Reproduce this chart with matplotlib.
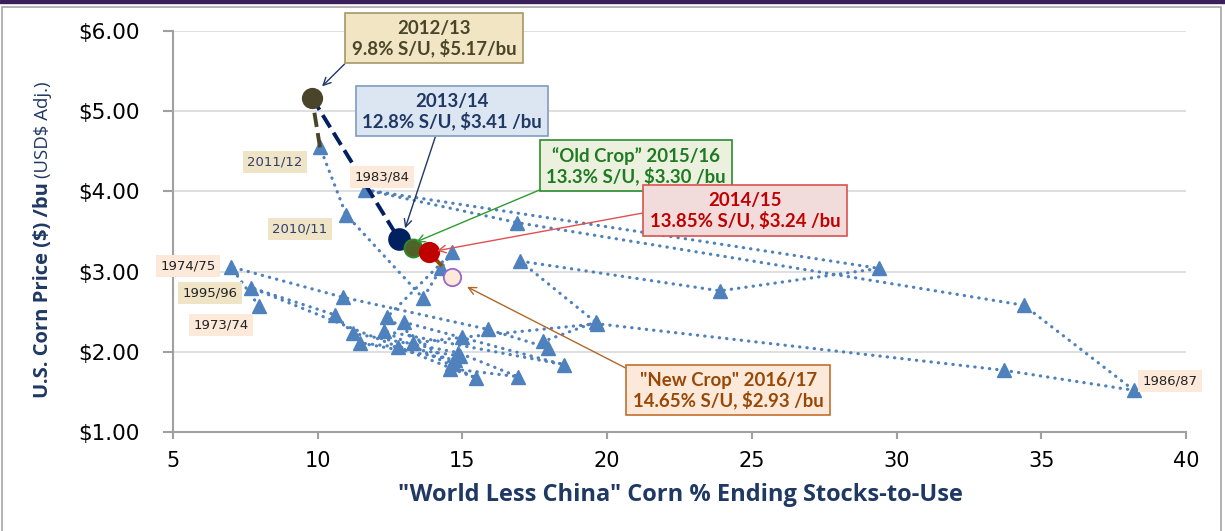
import numpy as np
import matplotlib
matplotlib.use("Agg")
import matplotlib.pyplot as plt
from matplotlib.patches import Rectangle

# chronological history 1973/74 .. 2011/12 (S/U %, real $/bu)
years = ["1973/74", "1974/75", "1975/76", "1976/77", "1977/78", "1978/79", "1979/80",
         "1980/81", "1981/82", "1982/83", "1983/84", "1984/85", "1985/86", "1986/87",
         "1987/88", "1988/89", "1989/90", "1990/91", "1991/92", "1992/93", "1993/94",
         "1994/95", "1995/96", "1996/97", "1997/98", "1998/99", "1999/00", "2000/01",
         "2001/02", "2002/03", "2003/04", "2004/05", "2005/06", "2006/07", "2007/08",
         "2008/09", "2009/10", "2010/11", "2011/12"]
stocks_use = [7.97, 7.0, 10.87, 15.88, 17.96, 17.8, 19.6,
              17.0, 23.9, 29.4, 11.63, 16.9, 34.4, 38.2,
              33.7, 19.65, 14.99, 13.3, 12.97, 18.5, 12.29,
              15.47, 7.7, 10.6, 11.22, 14.85, 16.92, 14.57,
              14.75, 11.46, 12.77, 14.9, 14.65, 12.39, 14.64,
              14.26, 13.64, 10.98, 10.08]
price = [2.57, 3.06, 2.68, 2.28, 2.05, 2.13, 2.37,
         3.13, 2.76, 3.04, 4.02, 3.61, 2.58, 1.52,
         1.77, 2.35, 2.18, 2.11, 2.37, 1.84, 2.26,
         1.67, 2.80, 2.46, 2.23, 1.99, 1.69, 1.79,
         1.90, 2.11, 2.06, 1.95, 1.85, 2.43, 3.24,
         3.04, 2.67, 3.71, 4.55]

# highlighted recent years
hl_years = ["2012/13", "2013/14", "2015/16", "2014/15", "2016/17"]
hl_su = [9.8, 12.8, 13.3, 13.85, 14.65]
hl_price = [5.17, 3.41, 3.30, 3.24, 2.93]

labelled = ["2011/12", "2010/11", "1983/84", "1974/75", "1995/96", "1973/74", "1986/87"]

navy = "#1F3864"
blue = "#4F81BD"

fig = plt.figure(figsize=(12.25, 5.31), dpi=100)
ax = fig.add_axes([173 / 1225, 99 / 531, 1013 / 1225, 401 / 531])


def fit_size(s, target, size=12, **kw):
    # font size at which string s spans about `target` pixels
    t = fig.text(0, 0, s, fontsize=size, **kw)
    fig.canvas.draw()
    w = t.get_window_extent().width
    t.remove()
    return size * target / w


# frame and top band
fig.patches.append(Rectangle((0, 1 - 3 / 531), 1, 3 / 531, transform=fig.transFigure,
                             color="#3B1F5A", zorder=0))
fig.patches.append(Rectangle((2 / 1225, -0.1), 1219 / 1225, 1.1 - 7 / 531,
                             transform=fig.transFigure, fill=False,
                             edgecolor="#A6A6A6", lw=1.2, zorder=0))

ax.plot(stocks_use, price, linestyle=(0, (0.1, 2.2)), dash_capstyle="round", lw=2.3,
        color=blue, marker="^", markersize=10, markerfacecolor=blue,
        markeredgecolor=blue, zorder=3)

# links into the highlighted years
ax.plot([stocks_use[-1], hl_su[0]], [price[-1], hl_price[0]], "--", color="#4A452A",
        lw=2.8, zorder=4)
ax.plot(hl_su[:2], hl_price[:2], "--", color="#002060", lw=2.8, zorder=4)
mid = 0.55
ax.plot([hl_su[3], hl_su[3] + mid * (hl_su[4] - hl_su[3])],
        [hl_price[3], hl_price[3] + mid * (hl_price[4] - hl_price[3])],
        color="#984806", lw=2.8, zorder=4, solid_capstyle="butt")

face = ["#4A452A", "#002060", "#4F6228", "#C00000", "#FDE9D9"]
edge = ["#4A452A", "#002060", "#2E8B2E", "#C00000", "#9966CC"]
sizes = [14, 15, 13, 14, 12.5]
for i in range(5):
    ax.plot(hl_su[i], hl_price[i], "o", markersize=sizes[i], markerfacecolor=face[i],
            markeredgecolor=edge[i], markeredgewidth=1.3, zorder=5 + i)

# callout boxes
boxes = [
    ("2012/13\n9.8% S/U, $5.17/bu", (14.02, 5.91), "#4A452A", "#F1E5C3", "#A39867", "#1F3864", (0, 0)),
    ("2013/14\n12.8% S/U, $3.41 /bu", (14.64, 5.0), "#1F3864", "#DCE6F2", "#7F9CC0", "#1F3864", (0.42, 0)),
    ("\u201cOld Crop\u201d 2015/16\n13.3% S/U, $3.30 /bu", (21.0, 4.32), "#1E7B22", "#EBF1DE", "#2E8B2E", "#2E9B2E", (0.03, 0)),
    ("2014/15\n13.85% S/U, $3.24 /bu", (24.76, 3.76), "#C00000", "#F2DCDB", "#D9534F", "#E05050", (0, 0.47)),
    ("\"New Crop\" 2016/17\n14.65% S/U, $2.93 /bu", (24.18, 1.52), "#984806", "#FDE9D9", "#C07030", "#B06828", (0, 1)),
]
targets = [(10.15, 5.31), (13.02, 3.54), (13.4, 3.37), (14.12, 3.26), (15.16, 2.81)]
box_fs = fit_size("12.8% S/U, $3.41 /bu", 180, fontweight="bold", family="Lato")
for (txt, pos, tc, fc, ec, ac, rp), tgt in zip(boxes, targets):
    ax.annotate(txt, xy=tgt, xytext=pos, ha="center", va="center", fontsize=box_fs,
                fontweight="bold", family="Lato", color=tc, zorder=20,
                linespacing=1.1,
                bbox=dict(boxstyle="square,pad=0.35", fc=fc, ec=ec, lw=1.2),
                arrowprops=dict(arrowstyle="->", color=ac, lw=1, relpos=rp,
                                shrinkA=0, shrinkB=0))

# year tags
tag_pos = [(8.52, 4.37), (9.39, 3.53), (12.22, 4.18), (5.52, 3.07), (6.28, 2.73),
           (6.66, 2.33), (39.45, 1.64)]
tag_fc = ["#EFE5C6", "#EFE5C6", "#FDE9D9", "#FDE9D9", "#EFE5C6", "#FDE9D9", "#FDE9D9"]
tag_tc = ["#2F3F6F", "#2F3F6F", "#222222", "#222222", "#222222", "#222222", "#222222"]
for lab, p, fc, tc in zip(labelled, tag_pos, tag_fc, tag_tc):
    ax.text(p[0], p[1], lab, ha="center", va="center", fontsize=9.5, color=tc,
            zorder=15, clip_on=False,
            bbox=dict(boxstyle="square,pad=0.35", fc=fc, ec="none"))

ax.set_xlim(5, 40)
ax.set_ylim(1, 6)
ax.set_xticks(np.arange(5, 41, 5))
ax.set_yticks(np.arange(1, 7, 1))
ax.set_yticklabels(["$%.2f" % v for v in np.arange(1, 7, 1)])
ax.grid(axis="y", color="#D9D9D9", lw=1.2)
ax.set_axisbelow(True)
for s in ["top", "right"]:
    ax.spines[s].set_visible(False)
for s in ["left", "bottom"]:
    ax.spines[s].set_color("#A0A0A0")
    ax.spines[s].set_linewidth(1.5)
ax.tick_params(axis="y", direction="out", length=7, width=1.5, color="#A0A0A0",
               labelsize=15.5, pad=17)
ax.tick_params(axis="x", direction="out", length=5, width=1.5, color="#A0A0A0",
               labelsize=15, pad=9)

xlab = "\"World Less China\" Corn % Ending Stocks-to-Use"
xfs = fit_size(xlab, 564, fontweight="bold", family="Open Sans")
fig.text(680 / 1225, 1 - 495 / 531, xlab, ha="center", va="center", fontsize=xfs,
         fontweight="bold", family="Open Sans", color=navy)

yfs = fit_size("U.S. Corn Price ($) /bu", 215, fontweight="bold", family="Open Sans")
t1 = fig.text(43 / 1225, 1 - 398 / 531, "U.S. Corn Price ($) /bu", rotation=90,
              ha="center", va="bottom", fontsize=yfs, fontweight="bold",
              family="Open Sans", color=navy)
fig.canvas.draw()
bb = t1.get_window_extent()
yfs2 = fit_size("(USD$ Adj.)", 96, family="Open Sans")
fig.text(43 / 1225, (bb.y1 + 4) / 531, "(USD$ Adj.)", rotation=90, ha="center",
         va="bottom", fontsize=yfs2, family="Open Sans", color=navy)

fig.savefig("out.png", dpi=100)
